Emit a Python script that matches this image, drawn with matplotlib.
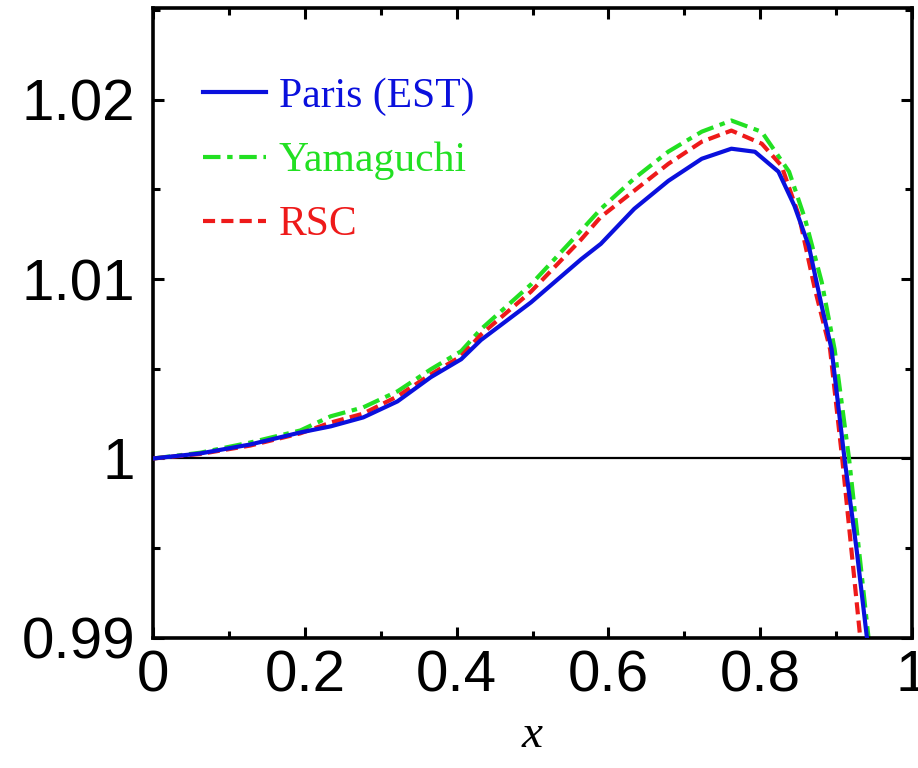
import matplotlib
matplotlib.use("Agg")
import matplotlib.pyplot as plt
from matplotlib.ticker import MultipleLocator, FixedLocator

# Paris (EST)
paris_x = [0.0, 0.062, 0.128, 0.194, 0.234, 0.277, 0.322, 0.366, 0.406, 0.432, 0.498,
           0.564, 0.590, 0.634, 0.679, 0.723, 0.762, 0.793, 0.824, 0.845, 0.864, 0.881,
           0.894, 0.911, 0.927, 0.942]
paris_y = [1.0, 1.00028, 1.00078, 1.00145, 1.00179, 1.00229, 1.00318, 1.00453, 1.00553,
           1.00660, 1.00870, 1.01110, 1.01196, 1.01391, 1.01547, 1.01670, 1.01726, 1.01709,
           1.01598, 1.01408, 1.01184, 1.00849, 1.00609, 1.0, 0.99492, 0.98950]

# Yamaguchi
yama_x = [0.0, 0.062, 0.128, 0.194, 0.234, 0.277, 0.322, 0.366, 0.406, 0.432, 0.498,
          0.564, 0.590, 0.634, 0.679, 0.723, 0.762, 0.802, 0.838, 0.859, 0.881, 0.898,
          0.917, 0.944]
yama_y = [1.0, 1.00032, 1.00089, 1.00156, 1.00235, 1.00285, 1.00374, 1.00497, 1.00598,
          1.00720, 1.00970, 1.01270, 1.01391, 1.01560, 1.01710, 1.01821, 1.01883, 1.01820,
          1.01598, 1.01335, 1.00983, 1.00609, 1.0, 0.98950]

# RSC
rsc_x = [0.0, 0.062, 0.128, 0.194, 0.234, 0.277, 0.322, 0.366, 0.406, 0.432, 0.498,
         0.564, 0.590, 0.634, 0.679, 0.723, 0.762, 0.802, 0.828, 0.851, 0.872, 0.892,
         0.908, 0.933]
rsc_y = [1.0, 1.00025, 1.00072, 1.00140, 1.00200, 1.00250, 1.00346, 1.00469, 1.00570,
         1.00690, 1.00930, 1.01220, 1.01346, 1.01492, 1.01642, 1.01765, 1.01827, 1.01754,
         1.01631, 1.01352, 1.00944, 1.00609, 1.0, 0.98950]

xticks = [0, 0.2, 0.4, 0.6, 0.8, 1.0]
xtick_labels = ["0", "0.2", "0.4", "0.6", "0.8", "1"]
yticks = [0.99, 1.0, 1.01, 1.02]
ytick_labels = ["0.99", "1", "1.01", "1.02"]

fig = plt.figure(figsize=(9.18, 7.68), dpi=100)
ax = fig.add_axes([0.1667, 0.1693, 0.8268, 0.8203])

ax.axhline(1.0, color="black", lw=1.6, zorder=1)
ax.plot(paris_x, paris_y, color="#0a10dd", lw=3.0, ls="-", label="Paris (EST)",
        zorder=4, solid_joinstyle="round")
ax.plot(yama_x, yama_y, color="#22e022", lw=3.0, ls=(0, (4.2, 1.6, 1.3, 1.6)),
        label="Yamaguchi", zorder=2)
ax.plot(rsc_x, rsc_y, color="#ee1a1a", lw=3.0, ls=(0, (2.9, 1.5)), label="RSC", zorder=3)

ax.set_xlim(0, 1)
ax.set_ylim(0.99, 1.0251)
ax.xaxis.set_major_locator(FixedLocator(xticks))
ax.set_xticklabels(xtick_labels)
ax.yaxis.set_major_locator(FixedLocator(yticks))
ax.set_yticklabels(ytick_labels)
ax.xaxis.set_minor_locator(MultipleLocator(0.1))
ax.yaxis.set_minor_locator(MultipleLocator(0.005))

ax.tick_params(which="both", direction="in", top=True, right=True, width=2.2,
               labelsize=42)
ax.tick_params(axis="x", which="major", pad=8)
ax.tick_params(axis="y", which="major", pad=13)
ax.tick_params(which="major", length=8)
ax.tick_params(which="minor", length=5)
for lab in ax.get_xticklabels() + ax.get_yticklabels():
    lab.set_fontfamily("Liberation Sans")
for s in ax.spines.values():
    s.set_linewidth(2.6)

ax.set_xlabel("x", fontsize=34, fontstyle="italic", fontfamily="Liberation Serif",
              labelpad=8)

leg = ax.legend(loc="upper left", bbox_to_anchor=(0.066, 0.89), frameon=False,
                borderpad=0, borderaxespad=0,
                prop={"family": "Liberation Serif", "size": 30},
                handlelength=1.5, handletextpad=0.32, labelspacing=0.62)
for txt, line in zip(leg.get_texts(), leg.get_lines()):
    txt.set_color(line.get_color())

fig.savefig("out.png", dpi=100)
